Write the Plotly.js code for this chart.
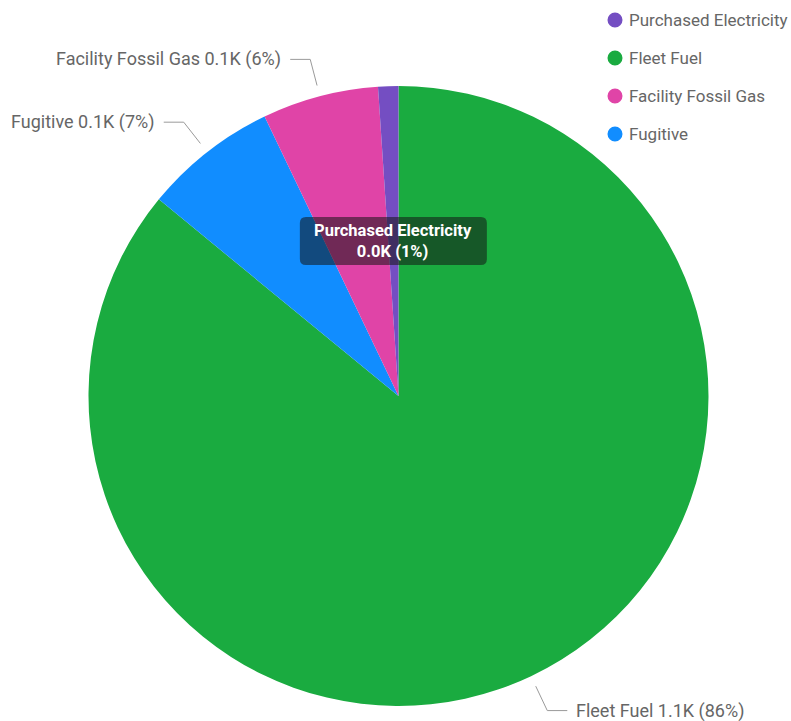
<!DOCTYPE html>
<html>
<head>
<meta charset="utf-8">
<script src="https://cdn.plot.ly/plotly-3.0.1.min.js"></script>
<style>
  html, body { margin: 0; padding: 0; background: #ffffff; }
  #chart { width: 791px; height: 721px; }
</style>
</head>
<body>
<div id="chart"></div>
<script>
// Emission sources, in the order the slices run clockwise from 12 o'clock
const categories = ['Fleet Fuel', 'Fugitive', 'Facility Fossil Gas', 'Purchased Electricity'];
const emissions = [1100, 89, 77.5, 13.5];
const sliceColors = ['#1AAB40', '#118DFF', '#E044A7', '#744EC2'];
// Order in which the legend lists the sources
const legendOrder = ['Purchased Electricity', 'Fleet Fuel', 'Facility Fossil Gas', 'Fugitive'];
// Source whose label sits inside the pie in a dark callout
const calloutCategory = 'Purchased Electricity';

const W = 791, H = 721;
const cx = 398.5, cy = 396, R = 310;
const FONT = 'Roboto, Segoe UI, Noto Sans, sans-serif';
const LABEL_COLOR = '#666666';

const total = emissions.reduce((a, b) => a + b, 0);
const fmtK = v => (v / 1000).toFixed(1) + 'K';
const pct = v => Math.round(v / total * 100) + '%';

// pixel -> paper helpers (margins are zero, so paper == full page)
const px = x => x / W;
const py = y => 1 - y / H;
const polar = (deg, r) => [cx + r * Math.sin(deg * Math.PI / 180), cy - r * Math.cos(deg * Math.PI / 180)];

const shapes = [];
const annotations = [];

// leader lines and outside labels, placed from each slice's mid angle
let start = 0;
categories.forEach((cat, i) => {
  const sweep = emissions[i] / total * 360;
  const mid = start + sweep / 2;
  start += sweep;
  const labelText = `${cat} ${fmtK(emissions[i])} (${pct(emissions[i])})`;

  if (cat === calloutCategory) {
    const [bx, by] = polar(mid, R * 0.5);
    const bw = 187, bh = 48, rr = 6;
    const x0 = bx - bw / 2, x1 = bx + bw / 2, y0 = by - bh / 2, y1 = by + bh / 2;
    const P = (x, y) => `${px(x)},${py(y)}`;
    const path = `M ${P(x0 + rr, y0)} L ${P(x1 - rr, y0)} Q ${P(x1, y0)} ${P(x1, y0 + rr)} ` +
      `L ${P(x1, y1 - rr)} Q ${P(x1, y1)} ${P(x1 - rr, y1)} L ${P(x0 + rr, y1)} ` +
      `Q ${P(x0, y1)} ${P(x0, y1 - rr)} L ${P(x0, y0 + rr)} Q ${P(x0, y0)} ${P(x0 + rr, y0)} Z`;
    shapes.push({ type: 'path', xref: 'paper', yref: 'paper', path: path,
      fillcolor: 'rgba(20,20,20,0.55)', line: { width: 0 }, layer: 'above' });
    annotations.push({ xref: 'paper', yref: 'paper', x: px(bx), y: py(by),
      text: `${cat}<br>${fmtK(emissions[i])} (${pct(emissions[i])})`, showarrow: false,
      xanchor: 'center', yanchor: 'middle', align: 'center', borderpad: 0,
      font: { family: FONT, size: 16.5, weight: 700, color: '#ffffff' } });
    return;
  }

  const dir = Math.sin(mid * Math.PI / 180) >= 0 ? 1 : -1;
  const [ax, ay] = polar(mid, R + 11);
  const [ex, ey] = polar(mid, R + 38);
  const hx = ex + dir * 20;
  const lineStyle = { color: '#9a9a9a', width: 1 };
  shapes.push({ type: 'line', xref: 'paper', yref: 'paper',
    x0: px(ax), y0: py(ay), x1: px(ex), y1: py(ey), line: lineStyle });
  shapes.push({ type: 'line', xref: 'paper', yref: 'paper',
    x0: px(ex), y0: py(ey), x1: px(hx), y1: py(ey), line: lineStyle });
  annotations.push({ xref: 'paper', yref: 'paper', x: px(hx + dir * 7), y: py(ey),
    text: labelText, showarrow: false, xanchor: dir > 0 ? 'left' : 'right', yanchor: 'middle',
    font: { family: FONT, size: 18, color: LABEL_COLOR } });
});

// legend: coloured dot + source name
legendOrder.forEach((cat, i) => {
  const color = sliceColors[categories.indexOf(cat)];
  const ly = 20 + i * 38;
  shapes.push({ type: 'circle', xref: 'paper', yref: 'paper',
    x0: px(615 - 7.5), x1: px(615 + 7.5), y0: py(ly + 7.5), y1: py(ly - 7.5),
    fillcolor: color, line: { width: 0 } });
  annotations.push({ xref: 'paper', yref: 'paper', x: px(627), y: py(ly),
    text: cat, showarrow: false, xanchor: 'left', yanchor: 'middle',
    font: { family: FONT, size: 17, color: LABEL_COLOR } });
});

const trace = {
  type: 'pie',
  labels: categories,
  values: emissions,
  sort: false,
  direction: 'clockwise',
  rotation: 0,
  marker: { colors: sliceColors, line: { width: 0 } },
  textinfo: 'none',
  hoverinfo: 'label+value+percent',
  showlegend: false,
  domain: { x: [(cx - R) / W, (cx + R) / W], y: [1 - (cy + R) / H, 1 - (cy - R) / H] }
};

const layout = {
  width: W, height: H,
  margin: { l: 0, r: 0, t: 0, b: 0 },
  paper_bgcolor: '#ffffff',
  showlegend: false,
  shapes: shapes,
  annotations: annotations
};

Plotly.newPlot('chart', [trace], layout, { displayModeBar: false, staticPlot: true });
</script>
</body>
</html>
